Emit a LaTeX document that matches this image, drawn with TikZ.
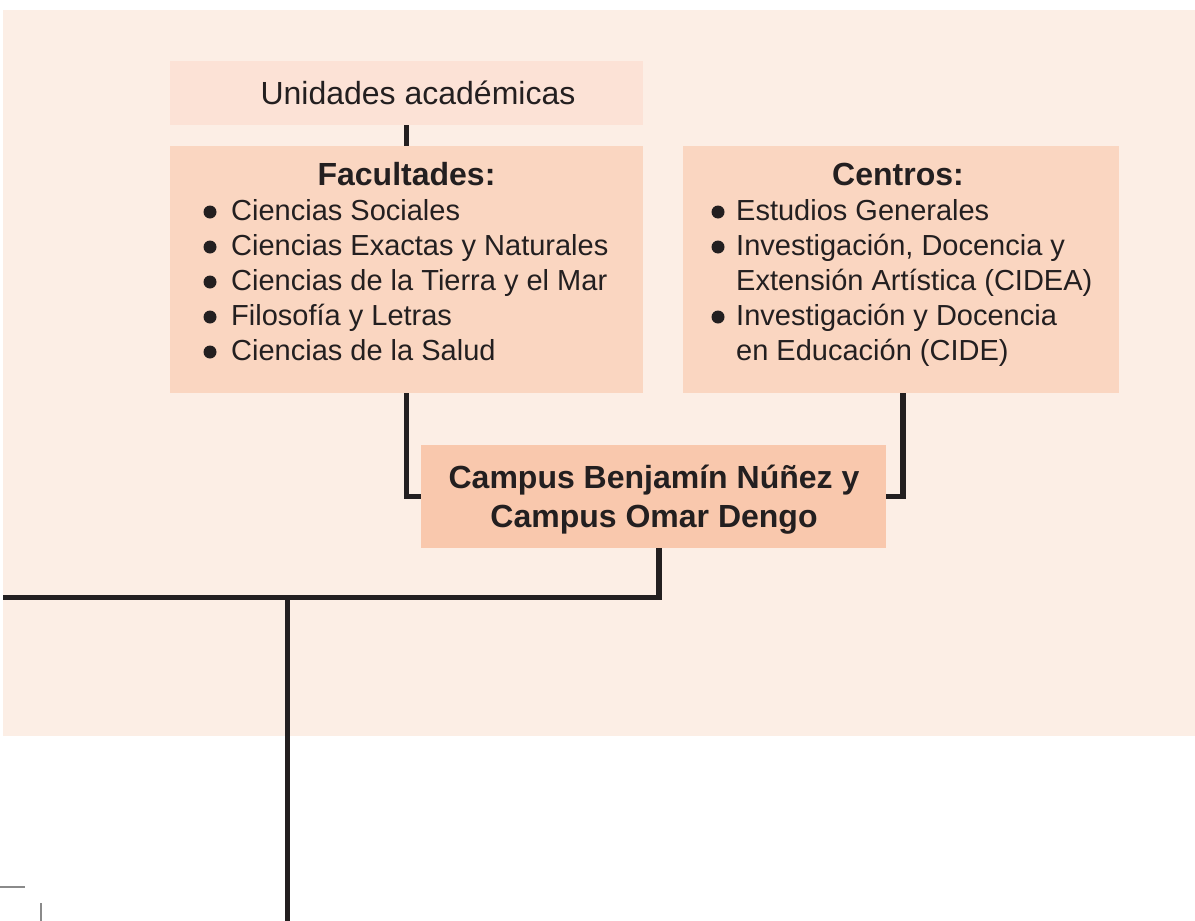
\documentclass[tikz,border=0pt]{standalone}
\usepackage{fontspec}
\setmainfont{Liberation Sans}
\definecolor{bgc}{HTML}{FCEEE5}
\definecolor{unic}{HTML}{FCE2D6}
\definecolor{boxc}{HTML}{FAD6C1}
\definecolor{campc}{HTML}{F9C8AD}
\definecolor{ink}{HTML}{231F20}
\definecolor{markc}{HTML}{8A8A8A}
\tikzset{
  box/.style={rectangle, inner sep=0pt, outer sep=0pt, draw=none, anchor=north west},
  conn/.style={draw=ink, line width=5.5pt, line join=miter},
  reg/.style={inner sep=0pt, text=ink, font=\fontsize{29}{35}\selectfont},
  big/.style={inner sep=0pt, text=ink, font=\fontsize{32}{38}\selectfont},
  head/.style={inner sep=0pt, text=ink, font=\fontsize{32}{38}\selectfont\bfseries},
  dot/.style={fill=ink},
}
\begin{document}
\begin{tikzpicture}[x=1pt,y=-1pt]
\useasboundingbox (0,0) rectangle (1195,921);
% background panel
\fill[bgc] (3,10) rectangle (1195,736);
% boxes
\node[box, fill=unic, minimum width=473pt, minimum height=64pt] (unid) at (170,61) {};
\node[box, fill=boxc, minimum width=473pt, minimum height=247pt] (fac) at (170,146) {};
\node[box, fill=boxc, minimum width=436pt, minimum height=247pt] (cen) at (683,146) {};
\node[box, fill=campc, minimum width=465pt, minimum height=103pt] (campus) at (421,445) {};
% texts
\node[big, anchor=base] (tunid) at (418,104) {Unidades académicas};
\node[head, anchor=base] (tfac) at (406.5,185) {Facultades:};
\node[head, anchor=base] (tcen) at (898,185) {Centros:};
\foreach \t [count=\i from 0] in {Ciencias Sociales, Ciencias Exactas y Naturales, Ciencias de la Tierra y el Mar, Filosofía y Letras, Ciencias de la Salud}{
  \fill[dot] (210,{212+35*\i}) circle (6.5);
  \node[reg, anchor=base west] (f\i) at (231,{220+35*\i}) {\t};
}
\fill[dot] (718,212) circle (6.5);
\fill[dot] (718,247) circle (6.5);
\fill[dot] (718,317) circle (6.5);
\node[reg, anchor=base west] (c0) at (736,220) {Estudios Generales};
\node[reg, anchor=base west] (c1) at (736,255) {Investigación, Docencia y};
\node[reg, anchor=base west] (c2) at (736,290) {Extensión Artística (CIDEA)};
\node[reg, anchor=base west] (c3) at (736,325) {Investigación y Docencia};
\node[reg, anchor=base west] (c4) at (736,360) {en Educación (CIDE)};
\node[head, anchor=base] (tc1) at (654,488) {Campus Benjamín Núñez y};
\node[head, anchor=base] (tc2) at (654,527) {Campus Omar Dengo};
% connectors
\coordinate (L) at (3,597.5);
\coordinate (J) at (287.5,597.5);
\coordinate (B) at (287.5,921);
\draw[conn] (unid.south) -- (fac.north);
\draw[conn] (fac.south) |- (campus.west);
\draw[conn] ([xshift=2pt]cen.south) |- (campus.east);
\draw[conn] ([xshift=5.5pt]campus.south) |- (L);
\draw[conn] (J) -- (B);
% small gray marks
\draw[markc, line width=2pt] (0,887) -- (25,887);
\draw[markc, line width=2pt] (41,903) -- (41,921);
\end{tikzpicture}
\end{document}
